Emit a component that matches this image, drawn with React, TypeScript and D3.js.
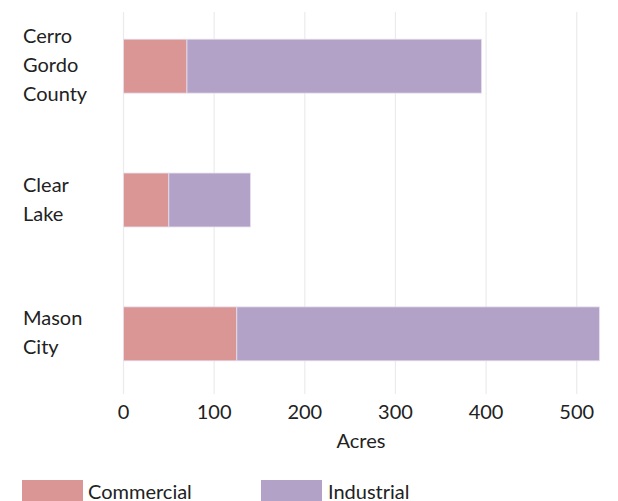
import React from "react";
import * as d3 from "d3";

const categories = ["Cerro Gordo County", "Clear Lake", "Mason City"];
const categoryLines = [["Cerro", "Gordo", "County"], ["Clear", "Lake"], ["Mason", "City"]];
const seriesNames = ["Commercial", "Industrial"];
const commercial = [70, 50, 125];
const industrial = [325, 90, 400];
const xTicks = [0, 100, 200, 300, 400, 500];
const colors = ["#d99694", "#b3a2c7"];

export default function App() {
  const W = 618, H = 501;
  const x = d3.scaleLinear().domain([0, 525]).range([123.5, 599.4]);
  const y = d3.scaleBand<string>().domain(categories).range([12, 388]).paddingInner(0.597).paddingOuter(0.203);
  const rows = categories.map((c, i) => ({ cat: c, Commercial: commercial[i], Industrial: industrial[i] }));
  const stacked = d3.stack<any>().keys(seriesNames)(rows);
  const font = "Lato, 'Open Sans', sans-serif";
  const fs = 20;
  return (
    <svg width={W} height={H} style={{ position: "absolute", left: 0, top: 0 }} fontFamily={font}>
      <rect width={W} height={H} fill="#fff" />
      {xTicks.map(t => (
        <line key={t} x1={x(t)} x2={x(t)} y1={12} y2={394} stroke="#ebebeb" strokeWidth={1.2} />
      ))}
      {stacked.map((s, si) => (
        <g key={s.key}>
          {s.map((d, i) => (
            <rect key={i} x={x(d[0])} y={y(categories[i])} width={x(d[1]) - x(d[0])} height={y.bandwidth()}
              fill={colors[si]} stroke="#e6dfee" strokeWidth={0.8} />
          ))}
        </g>
      ))}
      {categories.map((c, i) => {
        const lines = categoryLines[i];
        const cy = (y(c) as number) + y.bandwidth() / 2 - 2;
        const lh = 29;
        return (
          <text key={c} fontSize={fs} fill="#222" dominantBaseline="central">
            {lines.map((l, j) => (
              <tspan key={j} x={23} y={cy + (j - (lines.length - 1) / 2) * lh}>{l}</tspan>
            ))}
          </text>
        );
      })}
      {xTicks.map(t => (
        <text key={t} x={x(t)} y={411} fontSize={fs} fill="#222" textAnchor="middle" dominantBaseline="central">{t}</text>
      ))}
      <text x={361} y={440} fontSize={fs} fill="#222" textAnchor="middle" dominantBaseline="central">Acres</text>
      {seriesNames.map((n, i) => (
        <g key={n}>
          <rect x={[22, 261][i]} y={480} width={61} height={21} fill={colors[i]} />
          <text x={[88, 328][i]} y={491} fontSize={fs} fill="#222" dominantBaseline="central">{n}</text>
        </g>
      ))}
    </svg>
  );
}
